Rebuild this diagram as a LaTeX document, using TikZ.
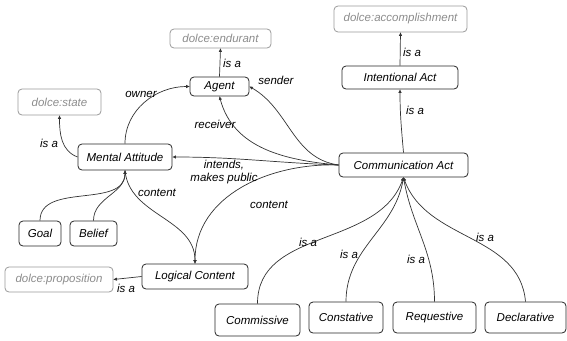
\documentclass[tikz,border=0pt]{standalone}
\usepackage{fontspec}
\setmainfont{Liberation Sans}
\usetikzlibrary{arrows.meta}
\begin{document}
\begin{tikzpicture}[x=1pt,y=-1pt,
  cbox/.style={draw=black!85, rounded corners=4pt, line width=0.8pt,
    font=\itshape\fontsize{11.5}{13}\selectfont, text=black, inner sep=0pt},
  dbox/.style={draw=black!40, rounded corners=4pt, line width=0.8pt,
    font=\itshape\fontsize{11.5}{13}\selectfont, text=black!45, inner sep=0pt},
  lbl/.style={font=\itshape\fontsize{11.5}{13}\selectfont, text=black, inner sep=0pt, align=center},
  rel/.style={draw=black!80, line width=0.7pt, -{Triangle[length=3.5pt,width=3pt]}}
]
\useasboundingbox (0,0) rectangle (567,340);
% nodes
\node[dbox, minimum width=101pt, minimum height=19pt] (endurant) at (220.5,38.5) {dolce:endurant};
\node[cbox, minimum width=59pt, minimum height=19pt] (Agent) at (219.5,86.5) {Agent};
\node[dbox, minimum width=83pt, minimum height=26pt] (state) at (59.5,102) {dolce:state};
\node[cbox, minimum width=94pt, minimum height=26pt] (MA) at (125,157) {Mental Attitude};
\node[dbox, minimum width=133pt, minimum height=26pt] (accomp) at (400.5,19) {dolce:accomplishment};
\node[cbox, minimum width=116pt, minimum height=23pt] (IA) at (400,77.5) {Intentional Act};
\node[cbox, minimum width=129pt, minimum height=24pt] (CA) at (403.5,165) {Communication Act};
\node[cbox, minimum width=42pt, minimum height=25pt] (Goal) at (40,233.5) {Goal};
\node[cbox, minimum width=47pt, minimum height=25pt] (Belief) at (93.5,233.5) {Belief};
\node[dbox, minimum width=108pt, minimum height=25pt] (prop) at (59,279.5) {dolce:proposition};
\node[cbox, minimum width=106pt, minimum height=25pt] (LC) at (195,276.5) {Logical Content};
\node[cbox, minimum width=85pt, minimum height=32pt] (Commissive) at (257.5,320) {Commissive};
\node[cbox, minimum width=74pt, minimum height=31pt] (Constative) at (346,317.5) {Constative};
\node[cbox, minimum width=83pt, minimum height=31pt] (Requestive) at (434.5,317.5) {Requestive};
\node[cbox, minimum width=81pt, minimum height=31pt] (Declarative) at (525.5,317.5) {Declarative};
% edges
\draw[rel] (Agent.north) -- (endurant.south);
\draw[rel] (MA.west) to[out=160,in=-90] (state.south);
\draw[rel] (MA.north) to[out=90,in=180] (Agent.west);
\draw[rel] (CA.west) to[out=172,in=-30] (Agent.east);
\draw[rel] (CA.west) to[out=175,in=-75] (Agent.south);
\draw[rel] (CA.west) to[out=178,in=0] (MA.east);
\draw[rel] (CA.west) to[out=178,in=90] (LC.north);
\draw[rel] (MA.south) to[out=-85,in=90] (LC.north);
\draw[rel] (Goal.north) to[out=90,in=-90] (MA.south);
\draw[rel] (Belief.north) to[out=90,in=-90] (MA.south);
\draw[rel] (LC.west) -- (prop.east);
\draw[rel] (IA.north) -- (accomp.south);
\draw[rel] (CA.north) to[out=95,in=-90] (IA.south);
\draw[rel] (Commissive.north) to[out=90,in=-110] (CA.south);
\draw[rel] (Constative.north) to[out=90,in=-100] (CA.south);
\draw[rel] (Requestive.north) to[out=90,in=-80] (CA.south);
\draw[rel] (Declarative.north) to[out=95,in=-70] (CA.south);
% labels
\node[lbl] (l1) at (232,63) {is a};
\node[lbl] (l2) at (49,143) {is a};
\node[lbl] (l3) at (141,94) {owner};
\node[lbl] (l4) at (276,80) {sender};
\node[lbl] (l5) at (215,124) {receiver};
\node[lbl] (l6) at (224,172) {intends,\\makes public};
\node[lbl] (l7) at (269,205) {content};
\node[lbl] (l8) at (157,193) {content};
\node[lbl] (l9) at (126,288) {is a};
\node[lbl] (l10) at (412,52) {is a};
\node[lbl] (l11) at (415,110) {is a};
\node[lbl] (l12) at (308,242) {is a};
\node[lbl] (l13) at (349,254) {is a};
\node[lbl] (l14) at (416,259) {is a};
\node[lbl] (l15) at (485,237) {is a};
\end{tikzpicture}
\end{document}
